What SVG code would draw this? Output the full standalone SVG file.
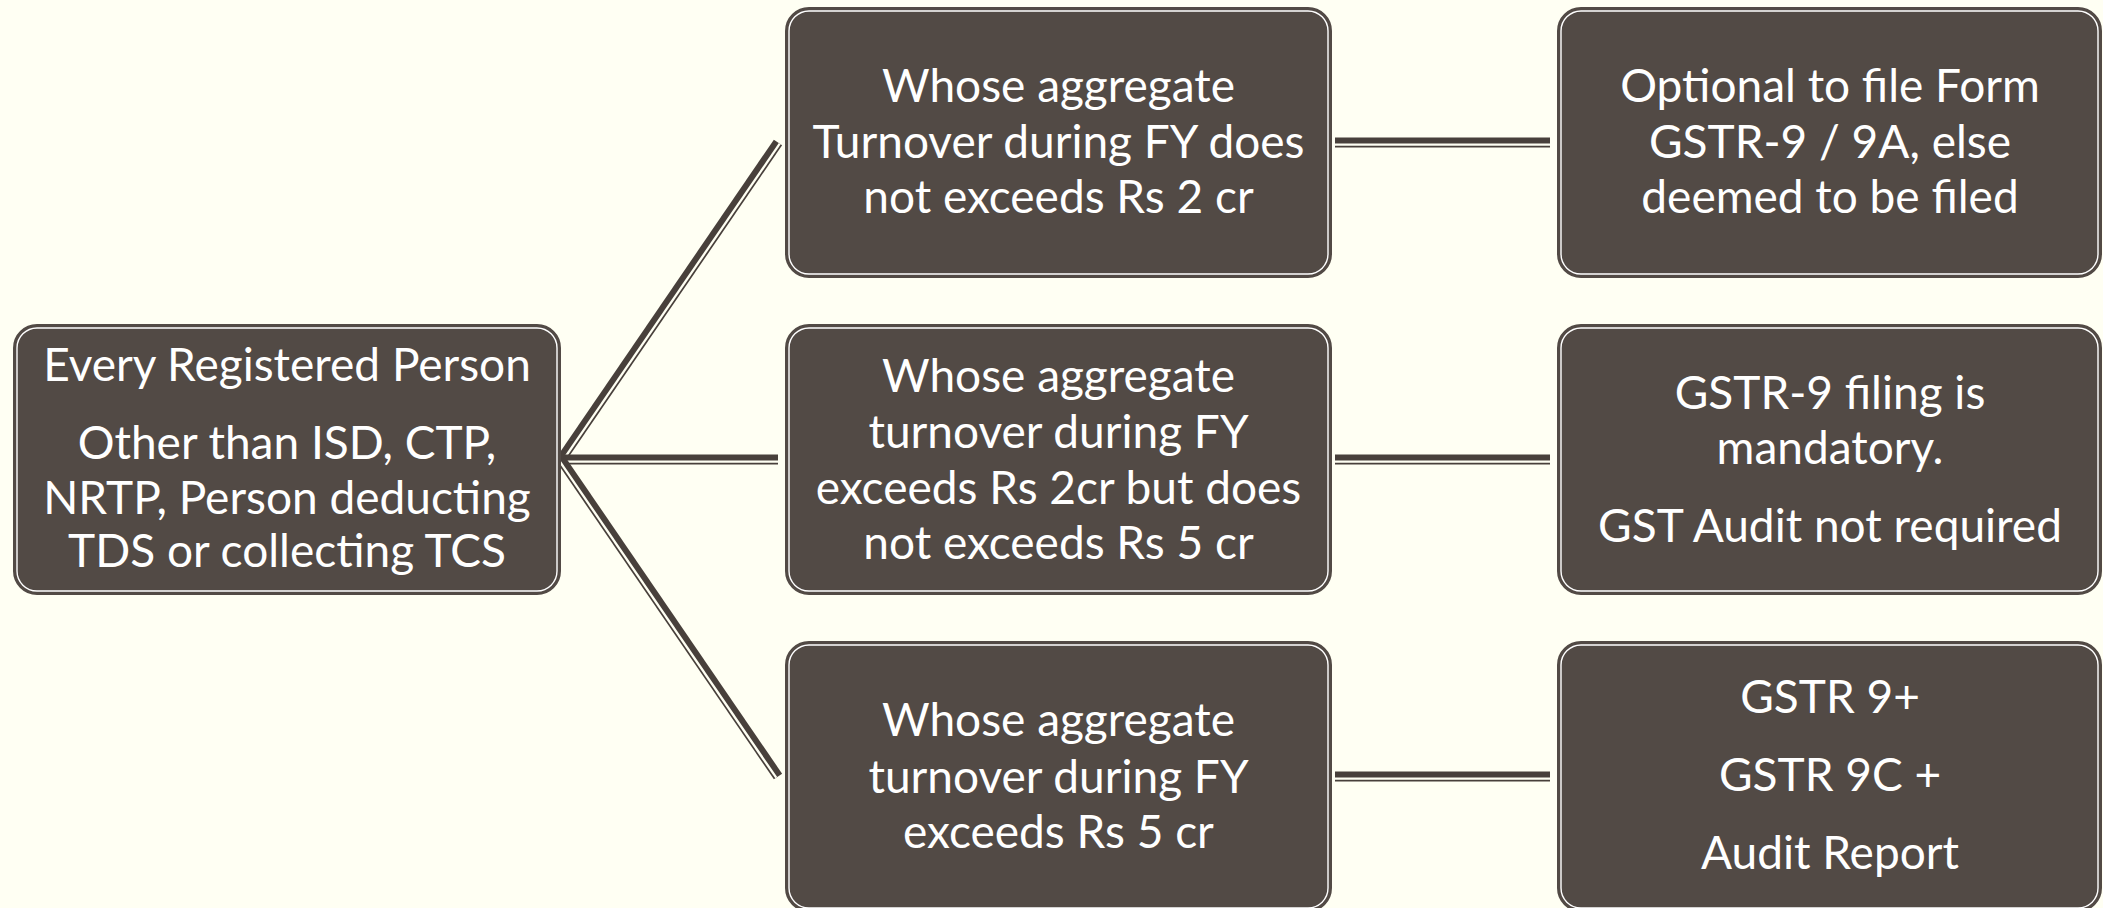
<svg xmlns="http://www.w3.org/2000/svg" width="2103" height="908" viewBox="0 0 2103 908">
<style>
.box{fill:#524a45;stroke:#524a45;stroke-width:2}
.inner{fill:none;stroke:#ffffff;stroke-width:1.4}
.t{font-family:Lato,"Open Sans","Liberation Sans",sans-serif;font-size:46px;fill:#ffffff;text-anchor:middle}
.ln{stroke:#48403b;stroke-width:10;fill:none}
.gap{stroke:#fffff3;stroke-width:2.3;fill:none}
</style>
<rect width="2103" height="908" fill="#fffff3"/>
<g id="connectors">
<line class="ln" x1="561" y1="459.5" x2="778" y2="142.5"/>
<line class="gap" x1="562.77" y1="460.71" x2="779.77" y2="143.71"/>
<line class="ln" x1="561" y1="459.5" x2="778" y2="459.5"/>
<line class="gap" x1="561" y1="461.65" x2="778" y2="461.65"/>
<line class="ln" x1="561" y1="459.5" x2="778" y2="776.5"/>
<line class="gap" x1="559.23" y1="460.71" x2="776.23" y2="777.71"/>
<line class="ln" x1="1335" y1="142.5" x2="1550" y2="142.5"/>
<line class="gap" x1="1335" y1="144.65" x2="1550" y2="144.65"/>
<line class="ln" x1="1335" y1="459.5" x2="1550" y2="459.5"/>
<line class="gap" x1="1335" y1="461.65" x2="1550" y2="461.65"/>
<line class="ln" x1="1335" y1="776.5" x2="1550" y2="776.5"/>
<line class="gap" x1="1335" y1="778.65" x2="1550" y2="778.65"/>
</g>
<g id="root">
<rect class="box" x="14" y="325" width="546" height="269" rx="23"/>
<rect class="inner" x="17" y="328" width="540" height="263" rx="20"/>
<text class="t" x="287" y="381">Every Registered Person</text>
<text class="t" x="287" y="459">Other than ISD, CTP,</text>
<text class="t" x="287" y="514">NRTP, Person deducting</text>
<text class="t" x="287" y="567">TDS or collecting TCS</text>
</g>
<g id="cond1">
<rect class="box" x="786" y="8" width="545" height="269" rx="23"/>
<rect class="inner" x="789" y="11" width="539" height="263" rx="20"/>
<text class="t" x="1058.5" y="102">Whose aggregate</text>
<text class="t" x="1058.5" y="158">Turnover during FY does</text>
<text class="t" x="1058.5" y="213">not exceeds Rs 2 cr</text>
</g>
<g id="cond2">
<rect class="box" x="786" y="325" width="545" height="269" rx="23"/>
<rect class="inner" x="789" y="328" width="539" height="263" rx="20"/>
<text class="t" x="1058.5" y="392">Whose aggregate</text>
<text class="t" x="1058.5" y="448">turnover during FY</text>
<text class="t" x="1058.5" y="504">exceeds Rs 2cr but does</text>
<text class="t" x="1058.5" y="559">not exceeds Rs 5 cr</text>
</g>
<g id="cond3">
<rect class="box" x="786" y="642" width="545" height="269" rx="23"/>
<rect class="inner" x="789" y="645" width="539" height="263" rx="20"/>
<text class="t" x="1058.5" y="736">Whose aggregate</text>
<text class="t" x="1058.5" y="793">turnover during FY</text>
<text class="t" x="1058.5" y="848">exceeds Rs 5 cr</text>
</g>
<g id="res1">
<rect class="box" x="1558" y="8" width="543" height="269" rx="23"/>
<rect class="inner" x="1561" y="11" width="537" height="263" rx="20"/>
<text class="t" x="1830" y="102">Optional to file Form</text>
<text class="t" x="1830" y="158">GSTR-9 / 9A, else</text>
<text class="t" x="1830" y="213">deemed to be filed</text>
</g>
<g id="res2">
<rect class="box" x="1558" y="325" width="543" height="269" rx="23"/>
<rect class="inner" x="1561" y="328" width="537" height="263" rx="20"/>
<text class="t" x="1830" y="409">GSTR-9 filing is</text>
<text class="t" x="1830" y="464">mandatory.</text>
<text class="t" x="1830" y="542">GST Audit not required</text>
</g>
<g id="res3">
<rect class="box" x="1558" y="642" width="543" height="269" rx="23"/>
<rect class="inner" x="1561" y="645" width="537" height="263" rx="20"/>
<text class="t" x="1830" y="713">GSTR 9+</text>
<text class="t" x="1830" y="791">GSTR 9C +</text>
<text class="t" x="1830" y="869">Audit Report</text>
</g>
</svg>
